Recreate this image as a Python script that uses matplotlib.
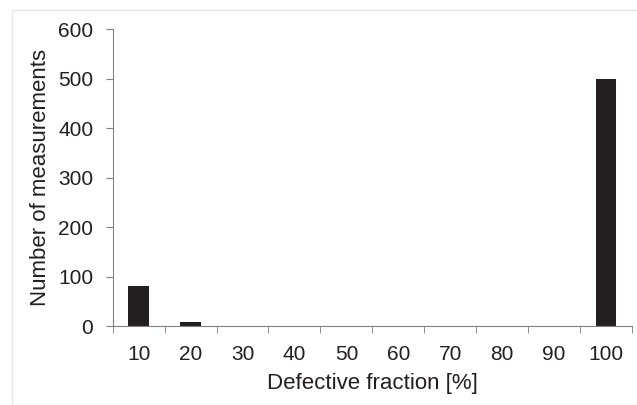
import matplotlib
matplotlib.use('Agg')
from matplotlib import pyplot as plt
from matplotlib.patches import Rectangle

categories = ['10', '20', '30', '40', '50', '60', '70', '80', '90', '100']
counts = [80, 8, 1, 0, 1, 0, 1, 0, 0, 500]

plt.rcParams['font.family'] = ['Liberation Sans', 'DejaVu Sans']

fig = plt.figure(figsize=(6.37, 4.05), dpi=100)
ax = fig.add_axes([0.177, 0.195, 0.815, 0.733])

# light frame round the figure
fig.patches.append(Rectangle((12 / 637, 0), 1, 1 - 10 / 405, transform=fig.transFigure,
                             fill=False, edgecolor='#e6e6e6', linewidth=1))

x = list(range(len(categories)))
ax.bar(x, counts, width=0.4, color='#231f20')

ax.set_xlim(-0.5, len(categories) - 0.5)
ax.set_ylim(0, 600)
ax.set_yticks([0, 100, 200, 300, 400, 500, 600])
ax.set_xticks(x)
ax.set_xticklabels(categories)
ax.set_xticks([i - 0.5 for i in range(len(categories) + 1)], minor=True)
ax.tick_params(axis='x', which='major', length=0, pad=14, labelsize=15, colors='#231f20')
ax.tick_params(axis='x', which='minor', length=5, color='#808080', direction='out')
ax.tick_params(axis='y', length=5, color='#808080', labelsize=15, pad=9, labelcolor='#231f20')

for side in ['top', 'right']:
    ax.spines[side].set_visible(False)
for side in ['left', 'bottom']:
    ax.spines[side].set_color('#808080')

ax.set_xlabel('Defective fraction [%]', fontsize=16, color='#231f20', labelpad=6)
ax.set_ylabel('Number of measurements', fontsize=16, color='#231f20', labelpad=5)

fig.savefig('out.png', dpi=100)
